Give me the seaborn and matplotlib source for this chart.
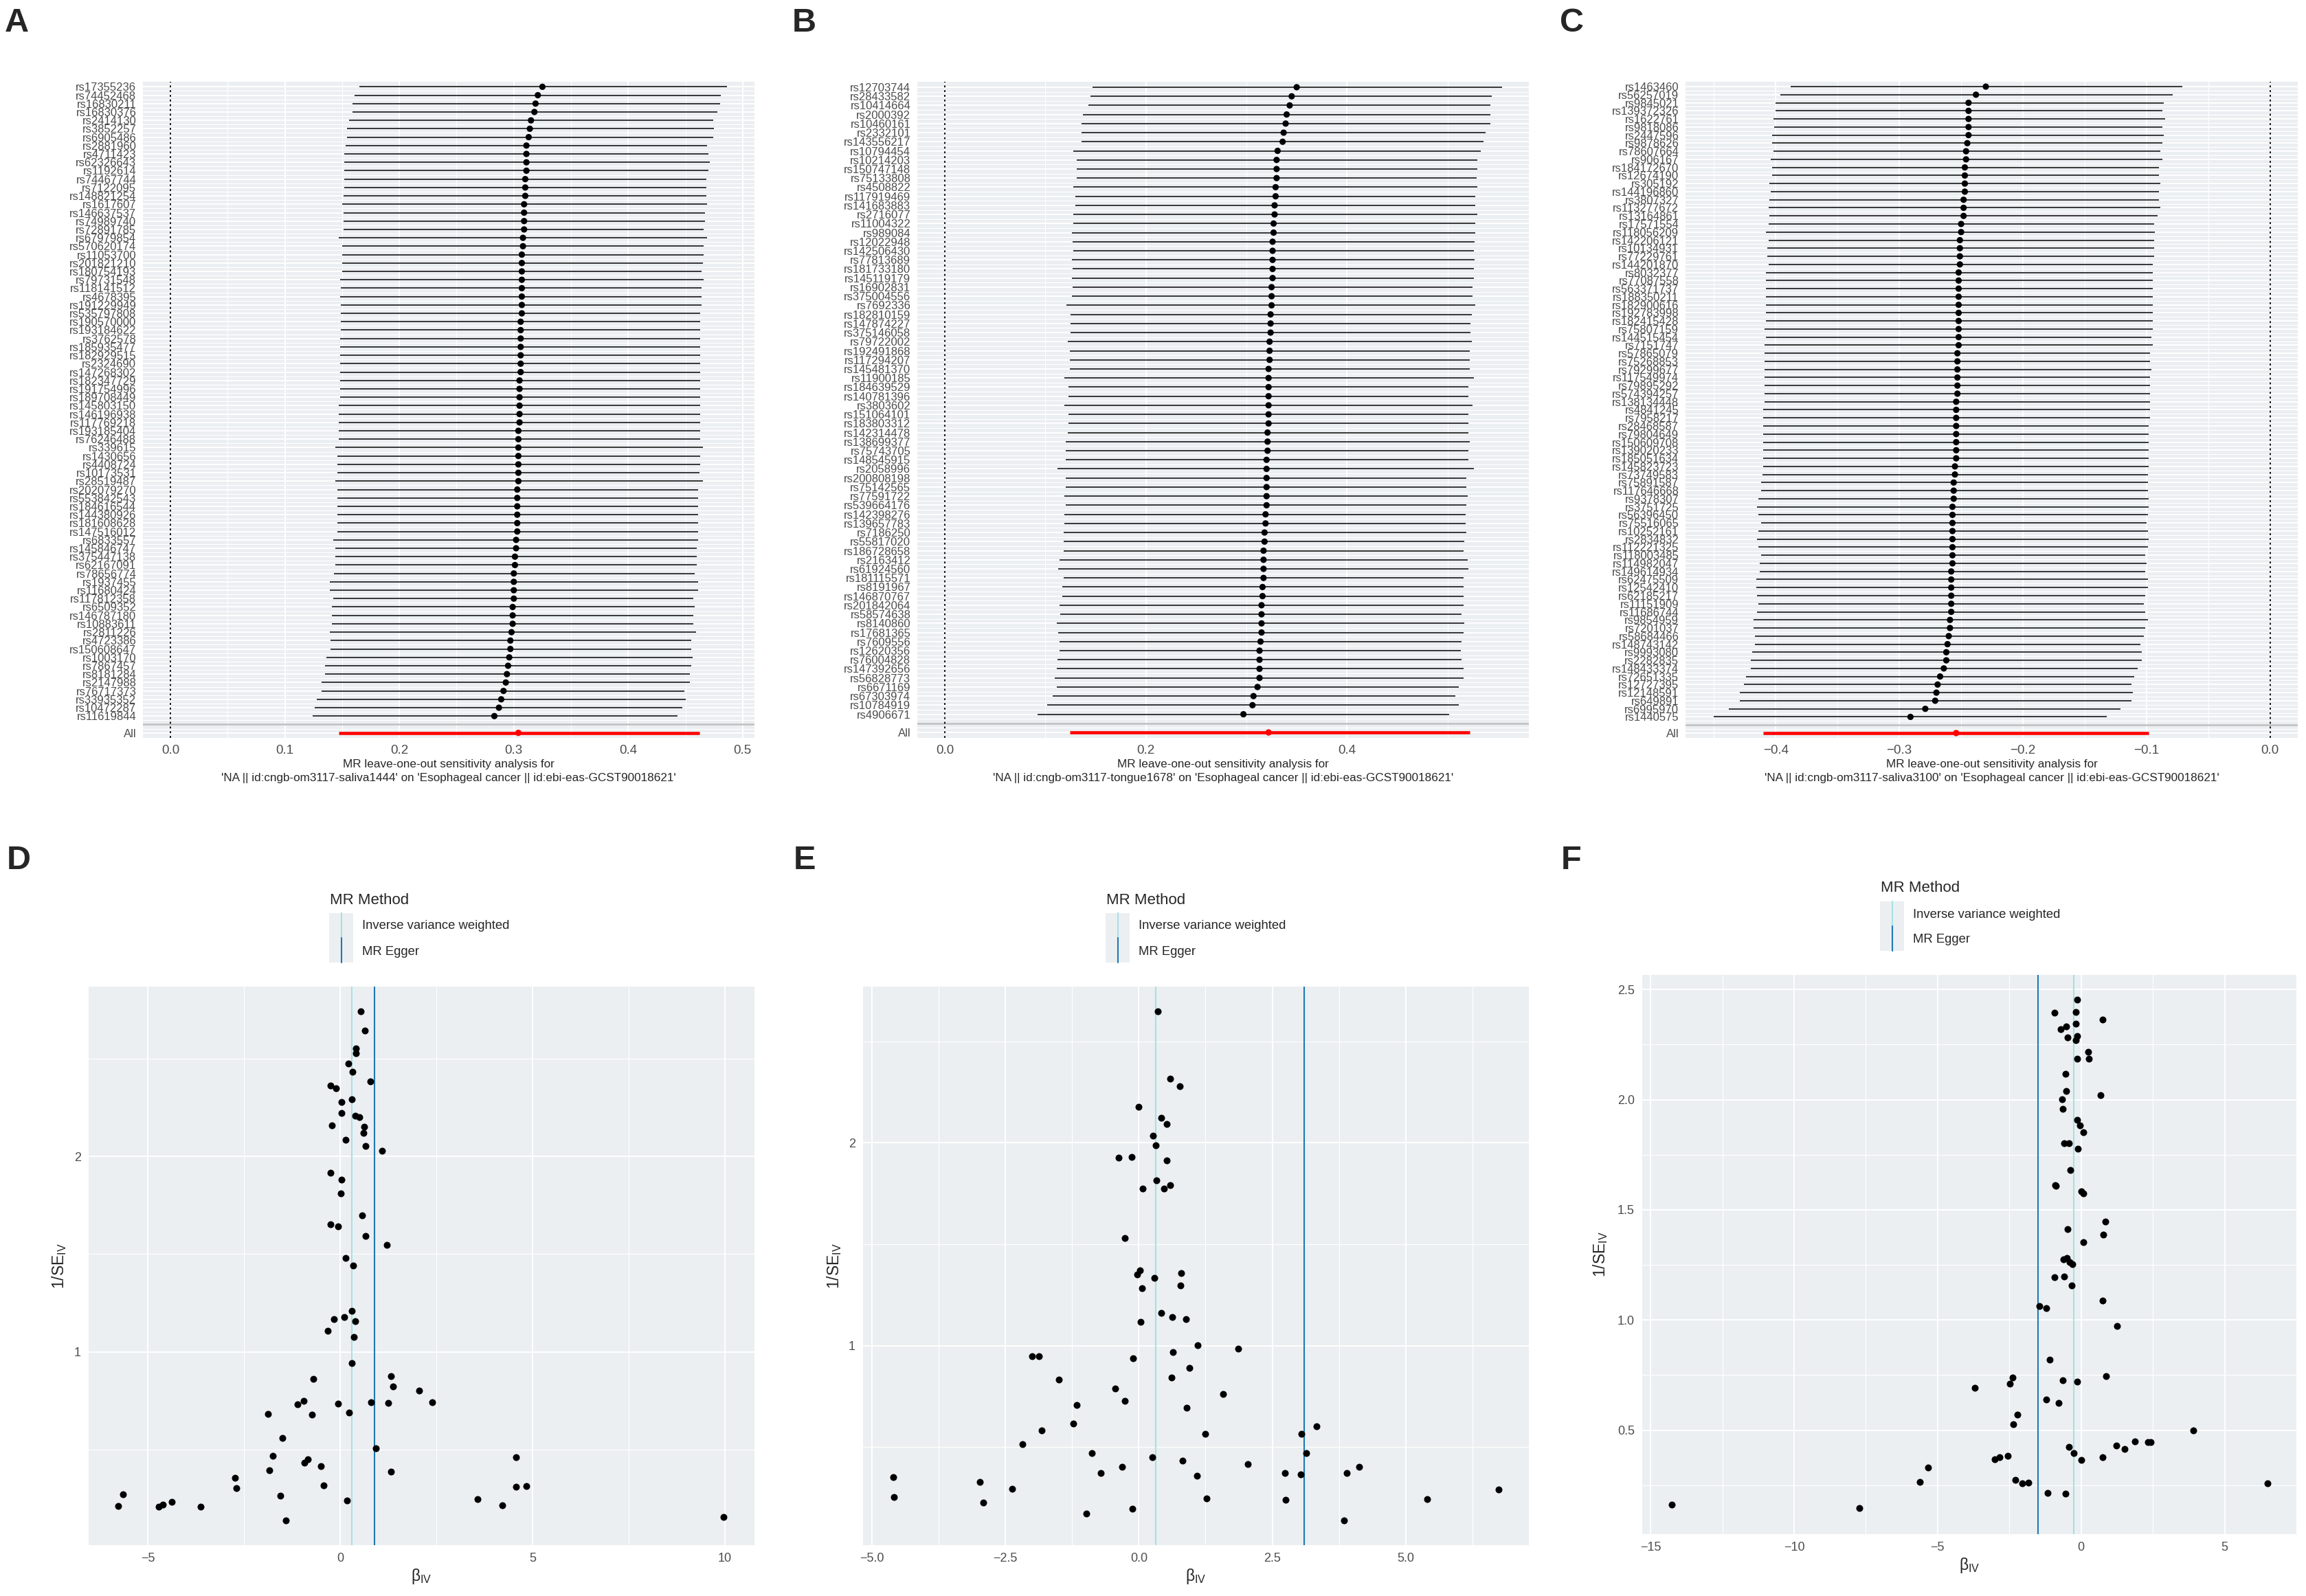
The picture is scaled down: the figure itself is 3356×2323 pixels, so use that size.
import numpy as np
import pandas as pd
import matplotlib
matplotlib.use('Agg')
import matplotlib.pyplot as plt
import seaborn as sns
from matplotlib import font_manager
from matplotlib.lines import Line2D
from matplotlib.patches import Rectangle

# DATA - leave-one-out (A, B, C)
snps_a = ['rs17355236', 'rs74452468', 'rs16830211', 'rs16830376', 'rs2414130', 'rs3852257', 'rs6905486',
          'rs2881960', 'rs4711423', 'rs62326643', 'rs1192614', 'rs74467744', 'rs7122095', 'rs148821254',
          'rs1617607', 'rs146637537', 'rs74989740', 'rs72891785', 'rs67979854', 'rs570620174', 'rs11053700',
          'rs201821210', 'rs180754193', 'rs79731548', 'rs118141512', 'rs4678395', 'rs191229949', 'rs535797808',
          'rs190570000', 'rs193184622', 'rs3762578', 'rs185935477', 'rs182929515', 'rs2324690', 'rs147268302',
          'rs182347729', 'rs191754996', 'rs189708449', 'rs145803150', 'rs146196938', 'rs117769218',
          'rs193185404', 'rs76246488', 'rs339615', 'rs1430656', 'rs4408724', 'rs10173531', 'rs28519487',
          'rs202079270', 'rs553842543', 'rs184616544', 'rs144380926', 'rs181608628', 'rs147516012',
          'rs6833557', 'rs145846747', 'rs375447138', 'rs62167091', 'rs78656774', 'rs1937455', 'rs11680424',
          'rs117812358', 'rs6509352', 'rs146787180', 'rs10883611', 'rs2811226', 'rs4723386', 'rs150608647',
          'rs1003170', 'rs7867457', 'rs8181284', 'rs2147988', 'rs76717373', 'rs33935352', 'rs10472287',
          'rs11619844']
b_a = [0.325, 0.321, 0.319, 0.318, 0.315, 0.314, 0.313, 0.311, 0.311, 0.311,
       0.311, 0.310, 0.310, 0.310, 0.309, 0.309, 0.309, 0.309, 0.308, 0.308,
       0.307, 0.307, 0.307, 0.307, 0.307, 0.307, 0.307, 0.307, 0.306, 0.306,
       0.306, 0.306, 0.306, 0.306, 0.306, 0.305, 0.305, 0.305, 0.305, 0.305,
       0.305, 0.304, 0.304, 0.304, 0.304, 0.304, 0.304, 0.304, 0.303, 0.303,
       0.303, 0.303, 0.303, 0.303, 0.302, 0.302, 0.301, 0.301, 0.300, 0.300,
       0.300, 0.300, 0.299, 0.299, 0.299, 0.298, 0.297, 0.297, 0.296, 0.295,
       0.294, 0.293, 0.291, 0.289, 0.287, 0.283]
lo_a = [0.165, 0.161, 0.159, 0.159, 0.156, 0.154, 0.154, 0.153, 0.152, 0.152,
        0.152, 0.152, 0.152, 0.151, 0.150, 0.151, 0.151, 0.151, 0.147, 0.150,
        0.150, 0.150, 0.150, 0.148, 0.149, 0.148, 0.149, 0.149, 0.149, 0.149,
        0.148, 0.148, 0.148, 0.148, 0.148, 0.148, 0.148, 0.148, 0.147, 0.147,
        0.147, 0.147, 0.147, 0.144, 0.146, 0.146, 0.146, 0.144, 0.146, 0.146,
        0.146, 0.146, 0.146, 0.146, 0.142, 0.144, 0.144, 0.144, 0.143, 0.139,
        0.139, 0.142, 0.141, 0.141, 0.141, 0.139, 0.140, 0.140, 0.136, 0.135,
        0.135, 0.132, 0.132, 0.128, 0.126, 0.124]
up_a = [0.486, 0.481, 0.480, 0.478, 0.474, 0.475, 0.474, 0.469, 0.470, 0.471,
        0.470, 0.468, 0.468, 0.468, 0.469, 0.467, 0.467, 0.466, 0.469, 0.466,
        0.466, 0.465, 0.464, 0.466, 0.464, 0.464, 0.464, 0.463, 0.463, 0.463,
        0.463, 0.463, 0.463, 0.463, 0.463, 0.463, 0.463, 0.463, 0.463, 0.463,
        0.463, 0.463, 0.463, 0.465, 0.463, 0.463, 0.462, 0.465, 0.461, 0.461,
        0.461, 0.461, 0.461, 0.461, 0.461, 0.460, 0.460, 0.460, 0.458, 0.461,
        0.461, 0.457, 0.458, 0.457, 0.457, 0.459, 0.455, 0.455, 0.456, 0.455,
        0.454, 0.454, 0.449, 0.450, 0.447, 0.443]
all_a = [0.304, 0.147, 0.462]

snps_b = ['rs12703744', 'rs28433582', 'rs10414664', 'rs2000392', 'rs10460161', 'rs2332101', 'rs143556217',
          'rs10794454', 'rs10214203', 'rs150747148', 'rs75133808', 'rs4508822', 'rs117919469', 'rs141683883',
          'rs2716077', 'rs11004322', 'rs989084', 'rs12022948', 'rs142506430', 'rs77813689', 'rs181733180',
          'rs145119179', 'rs16902831', 'rs375004556', 'rs7692336', 'rs182810159', 'rs147874227',
          'rs375146058', 'rs79722002', 'rs192491868', 'rs117294207', 'rs145481370', 'rs11900185',
          'rs184639529', 'rs140781396', 'rs3803602', 'rs151064101', 'rs183803312', 'rs142314478',
          'rs138699377', 'rs75743705', 'rs148545915', 'rs2058996', 'rs200808198', 'rs75142565', 'rs77591722',
          'rs539664176', 'rs142398276', 'rs139657783', 'rs7186250', 'rs55817020', 'rs186728658', 'rs2163412',
          'rs61924560', 'rs181115571', 'rs8191967', 'rs146870767', 'rs201842064', 'rs58574638', 'rs8140860',
          'rs17681365', 'rs7609556', 'rs12620356', 'rs76004828', 'rs147392656', 'rs56828773', 'rs6671169',
          'rs67303974', 'rs10784919', 'rs4906671']
b_b = [0.350, 0.345, 0.343, 0.340, 0.339, 0.337, 0.336, 0.331, 0.330, 0.330,
       0.330, 0.329, 0.329, 0.328, 0.328, 0.327, 0.327, 0.326, 0.326, 0.326,
       0.326, 0.326, 0.325, 0.325, 0.325, 0.324, 0.324, 0.324, 0.323, 0.323,
       0.323, 0.322, 0.322, 0.322, 0.322, 0.322, 0.322, 0.322, 0.321, 0.321,
       0.321, 0.320, 0.320, 0.320, 0.320, 0.320, 0.320, 0.319, 0.319, 0.318,
       0.318, 0.317, 0.317, 0.317, 0.317, 0.316, 0.316, 0.315, 0.315, 0.315,
       0.315, 0.314, 0.313, 0.313, 0.313, 0.313, 0.311, 0.307, 0.306, 0.297]
lo_b = [0.147, 0.145, 0.143, 0.137, 0.136, 0.136, 0.136, 0.128, 0.131, 0.131,
        0.131, 0.128, 0.130, 0.130, 0.128, 0.128, 0.126, 0.127, 0.128, 0.126,
        0.127, 0.126, 0.127, 0.126, 0.121, 0.125, 0.125, 0.125, 0.122, 0.124,
        0.124, 0.124, 0.119, 0.123, 0.123, 0.119, 0.123, 0.123, 0.122, 0.120,
        0.120, 0.120, 0.112, 0.120, 0.120, 0.119, 0.120, 0.119, 0.119, 0.118,
        0.118, 0.118, 0.114, 0.113, 0.118, 0.117, 0.117, 0.114, 0.115, 0.111,
        0.113, 0.114, 0.114, 0.112, 0.111, 0.109, 0.111, 0.107, 0.102, 0.092]
up_b = [0.554, 0.544, 0.543, 0.543, 0.543, 0.538, 0.536, 0.533, 0.530, 0.530,
        0.529, 0.530, 0.528, 0.528, 0.530, 0.528, 0.528, 0.527, 0.526, 0.527,
        0.526, 0.526, 0.525, 0.525, 0.528, 0.524, 0.523, 0.523, 0.524, 0.522,
        0.522, 0.522, 0.526, 0.521, 0.521, 0.525, 0.521, 0.521, 0.521, 0.522,
        0.521, 0.521, 0.526, 0.519, 0.519, 0.520, 0.519, 0.518, 0.518, 0.519,
        0.517, 0.516, 0.520, 0.521, 0.516, 0.516, 0.516, 0.516, 0.514, 0.517,
        0.516, 0.514, 0.513, 0.514, 0.516, 0.516, 0.511, 0.508, 0.511, 0.502]
all_b = [0.322, 0.124, 0.522]

snps_c = ['rs1463460', 'rs56257019', 'rs9845021', 'rs139372326', 'rs1622761', 'rs9818086', 'rs2447596',
          'rs9878626', 'rs78607664', 'rs906167', 'rs184172670', 'rs12674190', 'rs305192', 'rs144196860',
          'rs3807327', 'rs113277672', 'rs13164861', 'rs17571554', 'rs118056209', 'rs142206121', 'rs10134931',
          'rs77229761', 'rs144201870', 'rs8032377', 'rs77087558', 'rs563371737', 'rs188350211', 'rs182900616',
          'rs192783998', 'rs182415428', 'rs75807159', 'rs144515454', 'rs7151747', 'rs57865079', 'rs75268853',
          'rs79299677', 'rs117549974', 'rs79895292', 'rs574394257', 'rs138134448', 'rs4841245', 'rs7958217',
          'rs28468587', 'rs79804649', 'rs150609708', 'rs139020233', 'rs185051634', 'rs145823723',
          'rs73749583', 'rs75891587', 'rs117646668', 'rs9378307', 'rs3751725', 'rs56396450', 'rs75516065',
          'rs10252161', 'rs2834832', 'rs112221325', 'rs118003485', 'rs114982047', 'rs149614934',
          'rs62475509', 'rs12542410', 'rs62185217', 'rs11151909', 'rs11686744', 'rs9854959', 'rs7201037',
          'rs58684466', 'rs148743142', 'rs9993080', 'rs2282835', 'rs148433374', 'rs72651335', 'rs12727395',
          'rs12148591', 'rs649891', 'rs6995970', 'rs1440575']
b_c = [-0.230, -0.238, -0.244, -0.244, -0.244, -0.244, -0.244, -0.245, -0.246, -0.246,
       -0.247, -0.247, -0.247, -0.247, -0.248, -0.248, -0.248, -0.250, -0.250, -0.251,
       -0.251, -0.251, -0.251, -0.252, -0.252, -0.252, -0.252, -0.252, -0.252, -0.252,
       -0.252, -0.252, -0.252, -0.253, -0.253, -0.253, -0.253, -0.253, -0.253, -0.254,
       -0.254, -0.254, -0.254, -0.254, -0.254, -0.254, -0.254, -0.255, -0.255, -0.256,
       -0.256, -0.256, -0.257, -0.257, -0.257, -0.257, -0.257, -0.257, -0.257, -0.257,
       -0.258, -0.258, -0.258, -0.258, -0.258, -0.258, -0.259, -0.259, -0.260, -0.261,
       -0.262, -0.262, -0.264, -0.267, -0.269, -0.270, -0.271, -0.279, -0.291]
lo_c = [-0.388, -0.396, -0.400, -0.400, -0.402, -0.401, -0.403, -0.403, -0.402, -0.404,
        -0.403, -0.403, -0.405, -0.404, -0.405, -0.406, -0.405, -0.406, -0.408, -0.406,
        -0.407, -0.407, -0.406, -0.408, -0.408, -0.408, -0.408, -0.408, -0.408, -0.408,
        -0.409, -0.408, -0.409, -0.409, -0.409, -0.409, -0.409, -0.409, -0.409, -0.409,
        -0.410, -0.410, -0.410, -0.410, -0.410, -0.410, -0.410, -0.410, -0.411, -0.412,
        -0.412, -0.414, -0.415, -0.414, -0.412, -0.414, -0.415, -0.414, -0.412, -0.413,
        -0.413, -0.416, -0.416, -0.415, -0.414, -0.415, -0.418, -0.418, -0.417, -0.417,
        -0.419, -0.420, -0.420, -0.424, -0.426, -0.429, -0.429, -0.438, -0.450]
up_c = [-0.071, -0.079, -0.086, -0.087, -0.085, -0.087, -0.086, -0.087, -0.089, -0.087,
        -0.090, -0.090, -0.089, -0.090, -0.090, -0.089, -0.091, -0.094, -0.093, -0.094,
        -0.094, -0.094, -0.095, -0.095, -0.095, -0.095, -0.095, -0.095, -0.095, -0.095,
        -0.095, -0.096, -0.095, -0.097, -0.097, -0.096, -0.097, -0.097, -0.097, -0.097,
        -0.097, -0.097, -0.098, -0.098, -0.098, -0.098, -0.098, -0.098, -0.099, -0.099,
        -0.099, -0.098, -0.098, -0.099, -0.100, -0.099, -0.098, -0.099, -0.101, -0.100,
        -0.101, -0.099, -0.099, -0.101, -0.102, -0.101, -0.099, -0.101, -0.102, -0.105,
        -0.104, -0.104, -0.107, -0.110, -0.112, -0.111, -0.112, -0.121, -0.132]
all_c = [-0.254, -0.410, -0.098]

# DATA - funnel plots (D, E, F)
beta_d = [0.538, 0.641, 0.410, 0.410, 0.218, 0.321, 0.782, -0.244, -0.103, 0.308,
          0.026, 0.026, 0.385, 0.500, -0.218, 0.615, 0.603, 0.141, 0.654, 1.090,
          -0.256, 0.026, 0.013, 0.577, -0.256, -0.064, 0.654, 1.218, 0.141, 0.333,
          0.295, -0.154, 0.103, 0.397, -0.321, 0.359, 0.308, 1.321, -0.692, 1.372,
          2.051, -0.949, -1.115, -0.051, 0.795, 1.244, 2.397, -1.872, -0.731, 0.231,
          -1.500, 0.923, -1.744, 4.564, -0.833, -0.923, -0.500, -1.846, 1.321, -2.731,
          -0.423, -2.705, 4.564, 4.846, -5.654, -1.551, 3.577, -4.372, -4.603, 0.179,
          -5.769, -4.718, -3.628, 4.218, -1.410, 9.962]
inv_se_d = [2.743, 2.644, 2.552, 2.528, 2.477, 2.433, 2.385, 2.363, 2.351, 2.293,
            2.278, 2.223, 2.208, 2.203, 2.160, 2.153, 2.121, 2.087, 2.053, 2.029,
            1.918, 1.881, 1.811, 1.697, 1.654, 1.642, 1.593, 1.547, 1.482, 1.443,
            1.211, 1.169, 1.177, 1.157, 1.107, 1.077, 0.942, 0.877, 0.860, 0.823,
            0.801, 0.748, 0.731, 0.734, 0.741, 0.738, 0.743, 0.683, 0.678, 0.690,
            0.559, 0.506, 0.467, 0.460, 0.448, 0.433, 0.414, 0.392, 0.387, 0.356,
            0.315, 0.303, 0.310, 0.312, 0.271, 0.262, 0.247, 0.230, 0.218, 0.237,
            0.211, 0.206, 0.208, 0.213, 0.136, 0.155]
ivw_d, egger_d = 0.295, 0.897

beta_e = [0.351, 0.591, 0.767, -0.009, 0.425, 0.518, 0.259, 0.323, -0.379, -0.129,
          0.518, 0.333, 0.591, 0.074, 0.471, -0.259, 0.018, -0.028, 0.287, 0.795,
          0.776, 0.065, 0.425, 0.628, 0.878, 0.028, 1.100, 1.858, -1.996, -1.867,
          -0.111, 0.638, 0.943, -1.497, 0.619, -0.444, -0.259, 1.580, -1.165, 0.896,
          -1.229, -1.821, 3.327, 1.238, 3.050, -2.181, -0.887, 3.142, 0.250, 0.813,
          2.043, -0.314, 4.131, -0.712, 2.736, 3.900, 1.091, 3.031, -4.603, -2.985,
          -2.375, 6.738, -4.593, 1.266, 5.407, -2.911, 2.754, -0.120, -0.980, 3.845]
inv_se_e = [2.648, 2.315, 2.280, 2.177, 2.124, 2.093, 2.035, 1.988, 1.928, 1.930,
            1.914, 1.814, 1.790, 1.774, 1.774, 1.529, 1.371, 1.350, 1.333, 1.357,
            1.298, 1.284, 1.161, 1.140, 1.131, 1.117, 1.002, 0.984, 0.949, 0.946,
            0.937, 0.967, 0.890, 0.832, 0.841, 0.790, 0.727, 0.762, 0.706, 0.695,
            0.615, 0.583, 0.601, 0.566, 0.566, 0.515, 0.469, 0.469, 0.448, 0.431,
            0.415, 0.401, 0.401, 0.373, 0.373, 0.371, 0.359, 0.364, 0.352, 0.329,
            0.294, 0.291, 0.252, 0.245, 0.242, 0.226, 0.240, 0.196, 0.172, 0.138]
ivw_e, egger_e = 0.314, 3.096

beta_f = [-0.138, -0.929, -0.189, 0.739, -0.189, -0.516, -0.722, -0.138, -0.464, -0.189,
          0.241, -0.138, 0.275, -0.550, -0.516, 0.688, -0.671, -0.636, -0.138, -0.034,
          0.086, -0.585, -0.430, -0.120, -0.378, -0.911, -0.877, 0.000, 0.086, 0.843,
          -0.464, 0.774, 0.069, -0.619, -0.499, -0.396, -0.310, -0.929, -0.602, -0.327,
          0.757, -1.445, -1.221, 1.255, -1.083, -2.390, -2.476, -0.636, -0.138, 0.860,
          -3.697, -1.204, -0.791, -2.218, -2.373, 3.904, 1.874, 2.322, 2.425, 1.238,
          1.513, -0.430, -0.258, -2.562, -2.837, -3.009, 0.017, 0.757, -5.331, -5.623,
          -2.287, -2.046, -1.840, 6.500, -1.169, -0.533, -14.256, -7.721]
inv_se_f = [2.453, 2.395, 2.397, 2.363, 2.344, 2.333, 2.320, 2.290, 2.281, 2.271,
            2.217, 2.187, 2.187, 2.118, 2.039, 2.020, 2.003, 1.958, 1.908, 1.883,
            1.853, 1.803, 1.803, 1.778, 1.681, 1.613, 1.608, 1.585, 1.574, 1.447,
            1.411, 1.387, 1.353, 1.276, 1.282, 1.263, 1.252, 1.195, 1.197, 1.156,
            1.089, 1.062, 1.053, 0.972, 0.819, 0.738, 0.712, 0.727, 0.719, 0.744,
            0.691, 0.639, 0.624, 0.569, 0.526, 0.500, 0.449, 0.446, 0.446, 0.431,
            0.416, 0.423, 0.395, 0.384, 0.376, 0.369, 0.365, 0.376, 0.329, 0.264,
            0.273, 0.258, 0.262, 0.260, 0.215, 0.213, 0.161, 0.148]
ivw_f, egger_f = -0.258, -1.513

outcome = "'Esophageal cancer || id:ebi-eas-GCST90018621'"

# SETUP
W, H = 3356, 2323
BG = '#EBEFF1'
IVW_C = '#A6E0E6'
EGG_C = '#1F78B4'
TXT = '#4D4D4D'

sns.set_theme(style='darkgrid')
names = {f.name for f in font_manager.fontManager.ttflist}
FONT = 'Liberation Sans' if 'Liberation Sans' in names else 'DejaVu Sans'
plt.rcParams['font.family'] = [FONT, 'DejaVu Sans']
plt.rcParams['mathtext.default'] = 'regular'

fig = plt.figure(figsize=(W / 100, H / 100), dpi=100)
fig.patch.set_facecolor('white')


def px_rect(l, t, r, b):
    return [l / W, 1 - b / H, (r - l) / W, (b - t) / H]


def fx(x):
    return x / W


def fy(y):
    return 1 - y / H


def clean(ax):
    for s in ax.spines.values():
        s.set_visible(False)
    ax.set_facecolor(BG)
    ax.set_xlabel('')
    ax.set_ylabel('')


# LEAVE-ONE-OUT PANELS
def forest(box, snps, b, lo, up, allrow, xlim, xt, xtl, xminor, exposure):
    ax = fig.add_axes(px_rect(*box))
    n = len(snps)
    df = pd.DataFrame({'SNP': snps + ['All'],
                       'b': b + [allrow[0]],
                       'lo': lo + [allrow[1]],
                       'up': up + [allrow[2]]})
    df['pos'] = list(range(n + 2, 2, -1)) + [1]
    df['grp'] = ['snp'] * n + ['all']
    snp = df[df.grp == 'snp']
    ax.hlines(snp['pos'], snp['lo'], snp['up'], color='black', lw=1.1, zorder=2)
    ax.hlines(1, allrow[1], allrow[2], color='red', lw=3.3, zorder=2)
    ax.axvline(0, color='black', lw=1.3, ls=(0, (1.6, 2.2)), zorder=1.6)
    ax.axhline(2, color='#BEBEBE', lw=1.8, zorder=1.5)
    sns.scatterplot(data=df, x='b', y='pos', hue='grp', palette={'snp': 'black', 'all': 'red'},
                    s=44, linewidth=0, legend=False, ax=ax, zorder=3)
    clean(ax)
    ax.set_xlim(xlim)
    ax.set_ylim(0.4, n + 2.6)
    ax.set_xticks(xt)
    ax.set_xticklabels(xtl)
    ax.set_xticks(xminor, minor=True)
    ax.set_yticks(list(df['pos']) + [2])
    ax.set_yticklabels(list(df['SNP']) + [''])
    ax.set_yticks(np.arange(1.5, n + 2.5, 1.0), minor=True)
    ax.grid(which='major', color='white', lw=1.4)
    ax.grid(which='minor', color='white', lw=0.8)
    ax.set_axisbelow(True)
    ax.tick_params(which='major', length=5, width=1, color='#333333', pad=2, labelcolor=TXT)
    ax.tick_params(which='minor', length=0)
    ax.tick_params(axis='y', labelsize=12)
    ax.tick_params(axis='x', labelsize=13.5)
    cx = (box[0] + box[2]) / 2
    fig.text(fx(cx), fy(box[3] + 39), 'MR leave-one-out sensitivity analysis for',
             ha='center', va='center', fontsize=12.3)
    fig.text(fx(cx), fy(box[3] + 59), "'NA || id:" + exposure + "' on " + outcome,
             ha='center', va='center', fontsize=12.3)
    return ax


forest((208, 119, 1098, 1074), snps_a, b_a, lo_a, up_a, all_a, (-0.0241, 0.5103),
       [0, 0.1, 0.2, 0.3, 0.4, 0.5], ['0.0', '0.1', '0.2', '0.3', '0.4', '0.5'],
       [0.05, 0.15, 0.25, 0.35, 0.45], 'cngb-om3117-saliva1444')
forest((1335, 119, 2225, 1074), snps_b, b_b, lo_b, up_b, all_b, (-0.0275, 0.581),
       [0, 0.2, 0.4], ['0.0', '0.2', '0.4'], [0.1, 0.3, 0.5], 'cngb-om3117-tongue1678')
forest((2453, 119, 3344, 1074), snps_c, b_c, lo_c, up_c, all_c, (-0.473, 0.0224),
       [-0.4, -0.3, -0.2, -0.1, 0.0], ['\u22120.4', '\u22120.3', '\u22120.2', '\u22120.1', '0.0'],
       [-0.45, -0.35, -0.25, -0.15, -0.05], 'cngb-om3117-saliva3100')


# FUNNEL PANELS
def legend(xk, yt):
    fig.text(fx(xk + 1), fy(yt - 19), 'MR Method', ha='left', va='center', fontsize=16)
    fig.add_artist(Rectangle((fx(xk), fy(yt + 72)), 35 / W, 72 / H, transform=fig.transFigure,
                             facecolor=BG, edgecolor='none'))
    fig.add_artist(Line2D([fx(xk + 17.5)] * 2, [fy(yt), fy(yt + 36)], transform=fig.transFigure,
                          color=IVW_C, lw=1.5))
    fig.add_artist(Line2D([fx(xk + 17.5)] * 2, [fy(yt + 36), fy(yt + 72)], transform=fig.transFigure,
                          color=EGG_C, lw=1.5))
    fig.text(fx(xk + 48), fy(yt + 19), 'Inverse variance weighted', ha='left', va='center', fontsize=13.3)
    fig.text(fx(xk + 48), fy(yt + 56), 'MR Egger', ha='left', va='center', fontsize=13.3)


def funnel(box, bx, by, ivw, egger, xlim, ylim, xt, xtl, xminor, yt, ytl, yminor, ylab_x, xlab_y, leg):
    ax = fig.add_axes(px_rect(*box))
    df = pd.DataFrame({'b': bx, 'inv_se': by})
    ax.axvline(ivw, color=IVW_C, lw=1.5, zorder=2)
    ax.axvline(egger, color=EGG_C, lw=1.5, zorder=2)
    sns.scatterplot(data=df, x='b', y='inv_se', color='black', s=52, linewidth=0, ax=ax, zorder=3)
    clean(ax)
    ax.set_xlim(xlim)
    ax.set_ylim(ylim)
    ax.set_xticks(xt)
    ax.set_xticklabels(xtl)
    ax.set_xticks(xminor, minor=True)
    ax.set_yticks(yt)
    ax.set_yticklabels(ytl)
    ax.set_yticks(yminor, minor=True)
    ax.grid(which='major', color='white', lw=1.4)
    ax.grid(which='minor', color='white', lw=0.8)
    ax.set_axisbelow(True)
    ax.tick_params(which='major', length=5, width=1, color='#333333', pad=3, labelcolor=TXT, labelsize=13)
    ax.tick_params(which='minor', length=0)
    cx = (box[0] + box[2]) / 2
    cy = (box[1] + box[3]) / 2
    fig.text(fx(cx), fy(xlab_y), r'$\beta_{IV}$', ha='center', va='center', fontsize=16.5)
    fig.text(fx(ylab_x), fy(cy), r'$1/SE_{IV}$', ha='center', va='center', fontsize=16.5, rotation=90)
    legend(*leg)
    return ax


funnel((129, 1436, 1098, 2249), beta_d, inv_se_d, ivw_d, egger_d, (-6.54, 10.77), (0.01, 2.87),
       [-5, 0, 5, 10], ['\u22125', '0', '5', '10'], [-2.5, 2.5, 7.5],
       [1, 2], ['1', '2'], [0.5, 1.5, 2.5], 86, 2295, (479, 1329))
funnel((1256, 1436, 2225, 2249), beta_e, inv_se_e, ivw_e, egger_e, (-5.17, 7.31), (0.016, 2.77),
       [-5, -2.5, 0, 2.5, 5], ['\u22125.0', '\u22122.5', '0.0', '2.5', '5.0'],
       [-3.75, -1.25, 1.25, 3.75, 6.25],
       [1, 2], ['1', '2'], [0.5, 1.5, 2.5], 1214, 2295, (1609, 1329))
funnel((2390, 1419, 3342, 2233), beta_f, inv_se_f, ivw_f, egger_f, (-15.29, 7.50), (0.028, 2.566),
       [-15, -10, -5, 0, 5], ['\u221215', '\u221210', '\u22125', '0', '5'], [-12.5, -7.5, -2.5, 2.5],
       [0.5, 1.0, 1.5, 2.0, 2.5], ['0.5', '1.0', '1.5', '2.0', '2.5'], [0.25, 0.75, 1.25, 1.75, 2.25],
       2329, 2278, (2736, 1312))

# PANEL LETTERS
for letter, x, y in [('A', 7, 11), ('B', 1153, 11), ('C', 2270, 11),
                     ('D', 10, 1230), ('E', 1155, 1230), ('F', 2272, 1230)]:
    fig.text(fx(x), fy(y), letter, ha='left', va='top', fontsize=35, fontweight='bold')

fig.savefig('out.png', dpi=100, facecolor='white')
print("Saved as 'out.png'")
